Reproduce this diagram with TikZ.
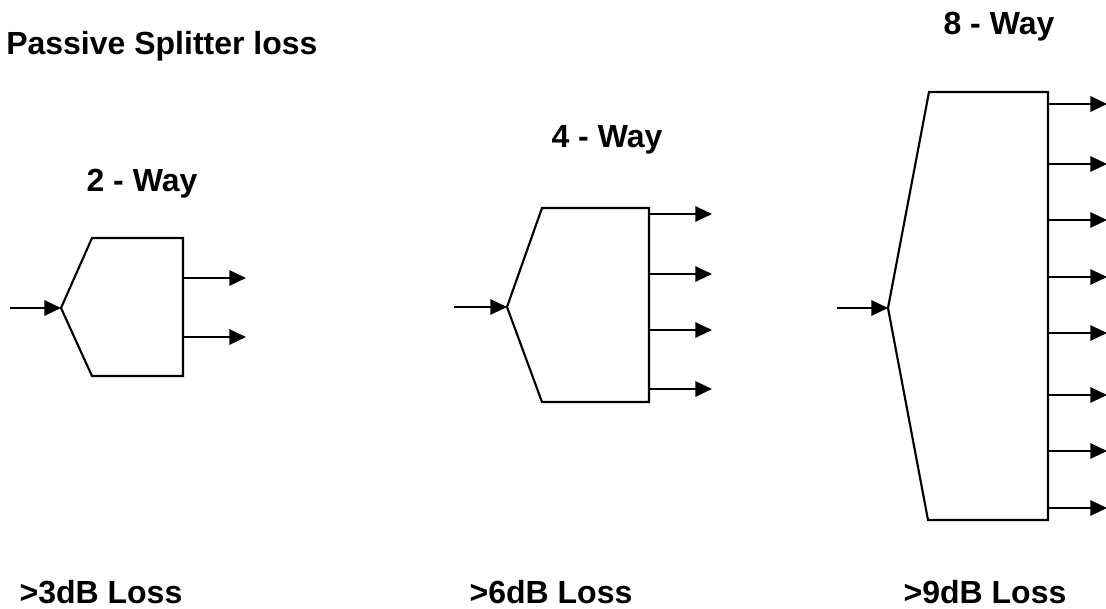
\documentclass[tikz,border=0pt]{standalone}
\usepackage{fontspec}
\setmainfont{Liberation Sans}
\usetikzlibrary{arrows.meta}
\begin{document}
\begin{tikzpicture}[x=0.75pt,y=-0.75pt,
  splitter/.style={line width=1.6pt, line join=miter},
  sig/.style={line width=1.6pt, -{Triangle[length=12.5pt,width=11.5pt]}},
  lbl/.style={font=\fontsize{24}{28}\selectfont\bfseries, inner sep=0pt}]
\useasboundingbox (0,0) rectangle (1106,609);
% titles
\node[lbl, anchor=base west] (title) at (6,55) {Passive Splitter loss};
\node[lbl, anchor=base] (t2) at (142,192) {2 - Way};
\node[lbl, anchor=base] (t4) at (607,148) {4 - Way};
\node[lbl, anchor=base] (t8) at (999,35) {8 - Way};
\node[lbl, anchor=base] (l2) at (101,603) {>3dB Loss};
\node[lbl, anchor=base] (l4) at (551,603) {>6dB Loss};
\node[lbl, anchor=base] (l8) at (985,603) {>9dB Loss};
% 2-way splitter
\coordinate (a-tip) at (61,308);
\coordinate (a-tl) at (92,238);
\coordinate (a-tr) at (183,238);
\coordinate (a-br) at (183,376);
\coordinate (a-bl) at (92,376);
\draw[splitter] (a-tip) -- (a-tl) -- (a-tr) -- (a-br) -- (a-bl) -- cycle;
\coordinate (a-in) at (10,308);
\draw[sig] (a-in) -- (a-tip);
\foreach \y [count=\i] in {278,337} {
  \coordinate (a-o\i) at (183,\y);
  \coordinate (a-e\i) at (246,\y);
  \draw[sig] (a-o\i) -- (a-e\i);
}
% 4-way splitter
\coordinate (b-tip) at (507,307);
\coordinate (b-tl) at (542,208);
\coordinate (b-tr) at (649,208);
\coordinate (b-br) at (649,402);
\coordinate (b-bl) at (542,402);
\draw[splitter] (b-tip) -- (b-tl) -- (b-tr) -- (b-br) -- (b-bl) -- cycle;
\coordinate (b-in) at (454,307);
\draw[sig] (b-in) -- (b-tip);
\foreach \y [count=\i] in {214,274,330,389} {
  \coordinate (b-o\i) at (649,\y);
  \coordinate (b-e\i) at (712,\y);
  \draw[sig] (b-o\i) -- (b-e\i);
}
% 8-way splitter
\coordinate (c-tip) at (888,308);
\coordinate (c-tl) at (929,92);
\coordinate (c-tr) at (1048,92);
\coordinate (c-br) at (1048,520);
\coordinate (c-bl) at (928,520);
\draw[splitter] (c-tip) -- (c-tl) -- (c-tr) -- (c-br) -- (c-bl) -- cycle;
\coordinate (c-in) at (837,308);
\draw[sig] (c-in) -- (c-tip);
\foreach \y [count=\i] in {104,164,220,277,333,395,451,508} {
  \coordinate (c-o\i) at (1048,\y);
  \coordinate (c-e\i) at (1107,\y);
  \draw[sig] (c-o\i) -- (c-e\i);
}
\end{tikzpicture}
\end{document}
